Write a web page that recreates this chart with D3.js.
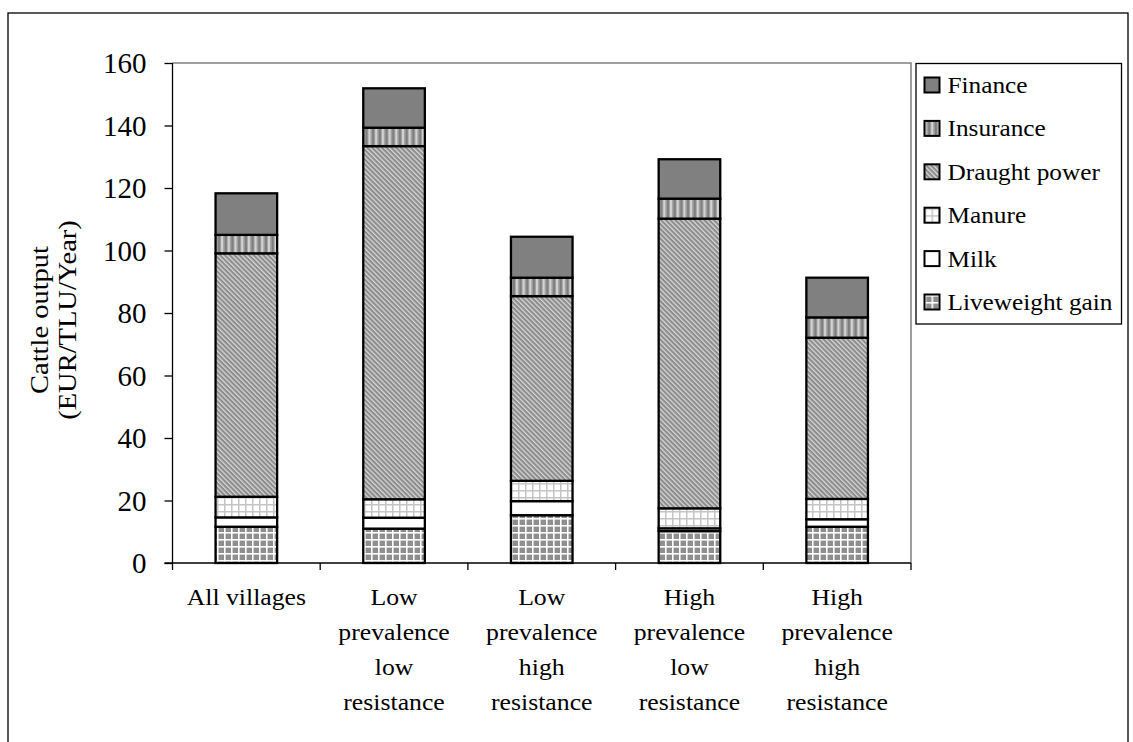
<!DOCTYPE html>
<html>
<head>
<meta charset="utf-8">
<script src="https://cdn.jsdelivr.net/npm/d3@7"></script>
<style>
  html, body { margin: 0; padding: 0; background: #fff; }
  svg { display: block; }
  svg text { font-family: "Liberation Serif", "Times New Roman", Times, serif !important; fill: #000; }
</style>
</head>
<body>
<svg id="chart" width="1133" height="742"></svg>
<script>
// Categories (multi-line axis labels)
const categories = [
  ["All villages"],
  ["Low", "prevalence", "low", "resistance"],
  ["Low", "prevalence", "high", "resistance"],
  ["High", "prevalence", "low", "resistance"],
  ["High", "prevalence", "high", "resistance"]
];

// Stacked components, bottom to top
const seriesNames = ["Liveweight gain", "Milk", "Manure", "Draught power", "Insurance", "Finance"];
const liveweightGain = [11.6, 11.0, 15.3, 10.2, 11.6];
const milk           = [3.0, 3.5, 4.5, 0.9, 2.4];
const manure         = [6.6, 5.9, 6.5, 6.4, 6.5];
const draughtPower   = [77.9, 113.0, 59.1, 92.7, 51.6];
const insurance      = [5.9, 5.9, 5.9, 6.4, 6.5];
const finance        = [13.3, 12.6, 13.1, 12.6, 12.7];

const yTicks = [0, 20, 40, 60, 80, 100, 120, 140, 160];
const yTitle = ["Cattle output", "(EUR/TLU/Year)"];

const SERIF = "'Liberation Serif', 'Times New Roman', Times, serif";

const seriesValues = [liveweightGain, milk, manure, draughtPower, insurance, finance];
const rows = categories.map((c, i) => {
  const r = { key: i };
  seriesNames.forEach((s, j) => { r[s] = seriesValues[j][i]; });
  return r;
});

const svg = d3.select("#chart").style("font-family", SERIF);
const plot = { left: 172.5, right: 911, top: 63, bottom: 563 };

// Fill patterns
const defs = svg.append("defs");

function pattern(id, w, h, build, transform) {
  const p = defs.append("pattern").attr("id", id)
    .attr("patternUnits", "userSpaceOnUse").attr("width", w).attr("height", h);
  if (transform) p.attr("patternTransform", transform);
  build(p);
  return p;
}
// Liveweight gain: grey squares separated by white lines
pattern("p-lw", 7, 7, p => {
  p.append("rect").attr("width", 7).attr("height", 7).attr("fill", "#fff");
  p.append("rect").attr("x", 1.6).attr("y", 1.6).attr("width", 5.4).attr("height", 5.4).attr("fill", "#8e8e8e");
});
// Manure: light grey grid on white
pattern("p-manure", 7, 7, p => {
  p.append("rect").attr("width", 7).attr("height", 7).attr("fill", "#c4c4c4");
  p.append("rect").attr("x", 1.5).attr("y", 1.5).attr("width", 5.5).attr("height", 5.5).attr("fill", "#fff");
});
// Draught power: fine diagonal stripes
pattern("p-draught", 3.4, 10, p => {
  p.append("rect").attr("width", 3.4).attr("height", 10).attr("fill", "#8c8c8c");
  p.append("rect").attr("x", 0).attr("width", 1.3).attr("height", 10).attr("fill", "#d6d6d6");
}, "rotate(-45)");
// Insurance: vertical stripes
pattern("p-ins", 6.7, 10, p => {
  p.append("rect").attr("width", 6.7).attr("height", 10).attr("fill", "#a2a2a2");
  p.append("rect").attr("x", 0).attr("width", 2).attr("height", 10).attr("fill", "#d2d2d2");
  p.append("rect").attr("x", 3.6).attr("width", 2).attr("height", 10).attr("fill", "#7c7c7c");
});

const fills = {
  "Liveweight gain": "url(#p-lw)",
  "Milk": "#ffffff",
  "Manure": "url(#p-manure)",
  "Draught power": "url(#p-draught)",
  "Insurance": "url(#p-ins)",
  "Finance": "#808080"
};

// Outer chart border
svg.append("rect").attr("x", 8).attr("y", 13).attr("width", 1120).attr("height", 760)
  .attr("fill", "none").attr("stroke", "#000").attr("stroke-width", 1.3);

// Scales
const x = d3.scaleBand().domain(d3.range(categories.length))
  .range([plot.left, plot.right]).paddingInner(0.583).paddingOuter(0.2915);
const y = d3.scaleLinear().domain([0, 160]).range([plot.bottom, plot.top]);

// Plot area border (top and right)
svg.append("path")
  .attr("d", `M${plot.left},${plot.top}H${plot.right}V${plot.bottom}`)
  .attr("fill", "none").attr("stroke", "#808080").attr("stroke-width", 1.5);

// Stacked bars
const stack = d3.stack().keys(seriesNames)(rows);
const layers = svg.append("g").selectAll("g").data(stack).join("g")
  .attr("fill", d => fills[d.key]);
layers.selectAll("rect").data(d => d).join("rect")
  .attr("x", (d, i) => x(i))
  .attr("width", x.bandwidth())
  .attr("y", d => y(d[1]))
  .attr("height", d => y(d[0]) - y(d[1]))
  .attr("stroke", "#000").attr("stroke-width", 2.3);

// Y axis
const yAxis = svg.append("g").attr("transform", `translate(${plot.left},0)`)
  .call(d3.axisLeft(y).tickValues(yTicks).tickSize(8).tickPadding(18).tickFormat(d3.format("d")))
  .attr("font-family", SERIF);
yAxis.select(".domain").attr("stroke", "#000").attr("stroke-width", 1.3)
  .attr("d", `M0,${plot.top}V${plot.bottom + 7}`);
yAxis.selectAll(".tick line").attr("stroke", "#000").attr("stroke-width", 1.3);
yAxis.selectAll(".tick text").attr("font-size", 29).style("font-family", SERIF)
  .attr("dy", "0.34em");

// X axis: baseline with ticks at category boundaries
const xAxis = svg.append("g");
xAxis.append("line").attr("x1", plot.left - 8).attr("x2", plot.right)
  .attr("y1", plot.bottom).attr("y2", plot.bottom)
  .attr("stroke", "#000").attr("stroke-width", 1.3);
const step = x.step();
xAxis.selectAll("line.b").data(d3.range(1, categories.length + 1)).join("line")
  .attr("class", "b")
  .attr("x1", i => plot.left + i * step).attr("x2", i => plot.left + i * step)
  .attr("y1", plot.bottom).attr("y2", plot.bottom + 7)
  .attr("stroke", "#000").attr("stroke-width", 1.3);

// Category labels
const labelG = xAxis.selectAll("g.lab").data(categories).join("g").attr("class", "lab");
labelG.each(function (lines, i) {
  const cx = x(i) + x.bandwidth() / 2;
  d3.select(this).selectAll("text").data(lines).join("text")
    .attr("transform", (d, k) => `translate(${cx},${605 + k * 35}) scale(1.12,1)`)
    .attr("text-anchor", "middle").attr("font-size", 23).style("font-family", SERIF)
    .text(d => d);
});

// Y axis title
const yt = svg.append("g").attr("transform", "translate(0,320)");
yt.selectAll("text").data(yTitle).join("text")
  .attr("transform", (d, k) => `translate(${48 + k * 28},0) rotate(-90) scale(1.14,1)`)
  .attr("text-anchor", "middle").attr("font-size", 25).style("font-family", SERIF)
  .text(d => d);

// Legend
const legend = svg.append("g");
legend.append("rect").attr("x", 916).attr("y", 63.5).attr("width", 205.5).attr("height", 260.5)
  .attr("fill", "#fff").attr("stroke", "#000").attr("stroke-width", 1.3);
const legendOrder = seriesNames.slice().reverse();
const li = legend.selectAll("g.item").data(legendOrder).join("g").attr("class", "item")
  .attr("transform", (d, k) => `translate(924.5,${85 + k * 43.4})`);
li.append("rect").attr("x", 0).attr("y", -7.5).attr("width", 15).attr("height", 15)
  .attr("fill", d => fills[d]).attr("stroke", "#000").attr("stroke-width", 2);
li.append("text").attr("transform", "translate(23,8) scale(1.1,1)")
  .attr("font-size", 23).style("font-family", SERIF).text(d => d);
</script>
</body>
</html>
